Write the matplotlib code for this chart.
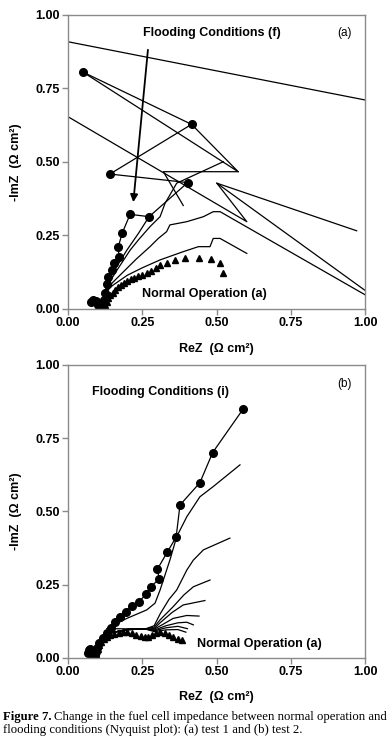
import numpy as np
import matplotlib
matplotlib.use('Agg')
import matplotlib.pyplot as plt

plt.rcParams['font.family'] = ['Liberation Sans', 'DejaVu Sans']

# ---- test 1 (panel a) ----
top_circle = [(0.076, 0.023), (0.085, 0.031), (0.095, 0.028), (0.102, 0.014), (0.110, 0.006),
              (0.115, 0.012), (0.120, 0.030), (0.125, 0.055), (0.130, 0.085), (0.136, 0.110),
              (0.147, 0.133), (0.155, 0.155), (0.172, 0.176), (0.169, 0.210), (0.182, 0.257),
              (0.209, 0.322), (0.273, 0.314), (0.403, 0.430), (0.141, 0.459), (0.416, 0.628),
              (0.050, 0.806)]
top_triangle = [(0.105, 0.010), (0.112, 0.004), (0.119, 0.008), (0.125, 0.015), (0.130, 0.025),
                (0.136, 0.036), (0.142, 0.046), (0.150, 0.056), (0.158, 0.066), (0.167, 0.075),
                (0.177, 0.083), (0.188, 0.090), (0.199, 0.096), (0.211, 0.102), (0.223, 0.107),
                (0.236, 0.112), (0.250, 0.117), (0.265, 0.122), (0.280, 0.130), (0.295, 0.138),
                (0.310, 0.148), (0.332, 0.155), (0.360, 0.165), (0.394, 0.172), (0.442, 0.172),
                (0.481, 0.169), (0.512, 0.155), (0.521, 0.121)]
top_start = [(0.11, 0.008), (0.12, 0.03), (0.13, 0.06)]
top_b = [(0.15, 0.08), (0.20, 0.115), (0.25, 0.14), (0.31, 0.167), (0.388, 0.195), (0.439, 0.212),
         (0.478, 0.212), (0.489, 0.24), (0.512, 0.24), (0.602, 0.189)]
top_c = [(0.15, 0.09), (0.19, 0.13), (0.23, 0.17), (0.276, 0.212), (0.304, 0.24), (0.332, 0.263),
         (0.343, 0.286), (0.40, 0.297), (0.456, 0.314), (0.489, 0.331), (0.512, 0.331), (1.006, 0.045)]
top_d = [(0.145, 0.10), (0.17, 0.14), (0.209, 0.20), (0.237, 0.235), (0.276, 0.28), (0.31, 0.314),
         (0.327, 0.36), (0.366, 0.428), (0.523, 0.501)]
top_e = [(0.136, 0.099), (0.164, 0.144), (0.198, 0.20), (0.237, 0.257), (0.273, 0.314)]
# stray low frequency segments
top_zig1 = [(0.05, 0.806), (0.573, 0.467), (0.416, 0.628)]
top_zig2 = [(0.573, 0.467), (0.321, 0.467), (0.388, 0.352)]
top_lineA = [(0.0, 0.909), (1.0, 0.711)]
top_lineB = [(0.0, 0.654), (0.602, 0.297), (0.501, 0.428), (0.972, 0.266)]
top_lineC = [(0.501, 0.428), (1.006, 0.059)]
top_arrow = [(0.27, 0.891), (0.219, 0.354)]

# ---- test 2 (panel b) ----
bot_circle = [(0.068, 0.016), (0.069, 0.027), (0.074, 0.030), (0.080, 0.020), (0.085, 0.010),
              (0.090, 0.005), (0.094, 0.020), (0.099, 0.035), (0.105, 0.050), (0.117, 0.067),
              (0.130, 0.086), (0.144, 0.103), (0.158, 0.122), (0.175, 0.141), (0.194, 0.158),
              (0.214, 0.177), (0.239, 0.192), (0.263, 0.218), (0.278, 0.243), (0.307, 0.269),
              (0.301, 0.303), (0.334, 0.361), (0.364, 0.412), (0.377, 0.522), (0.444, 0.598),
              (0.487, 0.701), (0.590, 0.850)]
bot_triangle = [(0.080, 0.012), (0.085, 0.006), (0.090, 0.010), (0.095, 0.020), (0.100, 0.032),
                (0.106, 0.045), (0.112, 0.056), (0.120, 0.065), (0.130, 0.072), (0.142, 0.078),
                (0.156, 0.082), (0.170, 0.085), (0.185, 0.087), (0.200, 0.087), (0.215, 0.085),
                (0.230, 0.080), (0.245, 0.075), (0.258, 0.072), (0.270, 0.073), (0.282, 0.078),
                (0.295, 0.084), (0.310, 0.087), (0.325, 0.085), (0.340, 0.080), (0.355, 0.073),
                (0.370, 0.066), (0.383, 0.060)]
bot_start = [(0.09, 0.01), (0.11, 0.05), (0.14, 0.085), (0.20, 0.097), (0.26, 0.099)]
bot_1 = [(0.13, 0.10), (0.198, 0.135), (0.265, 0.164), (0.293, 0.187), (0.31, 0.232), (0.343, 0.334),
         (0.366, 0.414), (0.40, 0.482), (0.444, 0.55), (0.489, 0.585), (0.579, 0.659)]
bot_2 = [(0.29, 0.11), (0.31, 0.15), (0.34, 0.20), (0.366, 0.232), (0.40, 0.30), (0.422, 0.334),
         (0.456, 0.369), (0.545, 0.409)]
bot_3 = [(0.29, 0.105), (0.31, 0.13), (0.354, 0.175), (0.39, 0.215), (0.422, 0.243), (0.478, 0.266)]
bot_4 = [(0.29, 0.10), (0.31, 0.12), (0.35, 0.155), (0.388, 0.181), (0.461, 0.196)]
bot_5 = [(0.29, 0.098), (0.32, 0.115), (0.354, 0.135), (0.40, 0.145), (0.441, 0.143)]
bot_6 = [(0.29, 0.095), (0.33, 0.11), (0.37, 0.12), (0.40, 0.122), (0.422, 0.113)]
bot_7 = [(0.29, 0.093), (0.33, 0.103), (0.37, 0.108), (0.402, 0.10)]
bot_8 = [(0.29, 0.09), (0.33, 0.096), (0.37, 0.097), (0.397, 0.088)]

ticks = [0.0, 0.25, 0.5, 0.75, 1.0]
tick_labels = ['0.00', '0.25', '0.50', '0.75', '1.00']
frame = '#8a8a8a'


def xy(pts):
    a = np.array(pts)
    return a[:, 0], a[:, 1]


def thin(ax, pts):
    x, y = xy(pts)
    ax.plot(x, y, color='k', lw=0.9)


def style(ax):
    ax.set_xlim(0, 1)
    ax.set_ylim(0, 1)
    ax.set_xticks(ticks)
    ax.set_yticks(ticks)
    ax.set_xticklabels(tick_labels, fontsize=9, fontweight='bold')
    ax.set_yticklabels(tick_labels, fontsize=9, fontweight='bold')
    for s in ax.spines.values():
        s.set_color(frame)
        s.set_linewidth(1.0)
    ax.tick_params(direction='out', length=4, width=1, color=frame, pad=2)
    ax.set_xlabel('ReZ  (\u03a9 cm\u00b2)', fontsize=9, fontweight='bold')
    ax.set_ylabel('-ImZ  (\u03a9 cm\u00b2)', fontsize=9, fontweight='bold')
    ax.yaxis.set_label_coords(-0.155, 0.5)


fig = plt.figure(figsize=(3.9, 7.46), dpi=100)
ax1 = fig.add_axes([0.1744, 0.5858, 0.7615, 0.3941])
ax2 = fig.add_axes([0.1744, 0.1180, 0.7615, 0.3928])

# panel a
for seg in [top_b, top_c, top_d, top_e]:
    thin(ax1, top_start + seg)
for seg in [top_zig1, top_zig2, top_lineA, top_lineB, top_lineC]:
    thin(ax1, seg)
x, y = xy(top_circle)
ax1.plot(x, y, color='k', lw=0.9, marker='o', ms=5.5)
x, y = xy(top_triangle)
ax1.plot(x, y, color='k', lw=0.9, marker='^', ms=5, ls='none')
ax1.annotate('', xy=top_arrow[1], xytext=top_arrow[0],
             arrowprops=dict(arrowstyle='-|>', color='k', lw=1.3, mutation_scale=11))
ax1.text(0.485, 0.94, 'Flooding Conditions (f)', ha='center', va='center', fontsize=9, fontweight='bold')
ax1.text(0.93, 0.94, '(a)', ha='center', va='center', fontsize=8.5)
ax1.text(0.458, 0.051, 'Normal Operation (a)', ha='center', va='center', fontsize=9, fontweight='bold')
style(ax1)
ax1.xaxis.set_label_coords(0.5, -0.116)

# panel b
for seg in [bot_1, bot_2, bot_3, bot_4, bot_5, bot_6, bot_7, bot_8]:
    thin(ax2, bot_start + seg)
x, y = xy(bot_circle)
ax2.plot(x, y, color='k', lw=0.9, marker='o', ms=5.5)
x, y = xy(bot_triangle)
ax2.plot(x, y, color='k', lw=0.9, marker='^', ms=5, ls='none')
ax2.text(0.31, 0.907, 'Flooding Conditions (i)', ha='center', va='center', fontsize=9, fontweight='bold')
ax2.text(0.93, 0.935, '(b)', ha='center', va='center', fontsize=8.5)
ax2.text(0.646, 0.048, 'Normal Operation (a)', ha='center', va='center', fontsize=9, fontweight='bold')
style(ax2)
ax2.xaxis.set_label_coords(0.5, -0.112)

# caption
serif = ['Liberation Serif', 'DejaVu Serif']
fig.canvas.draw()
r = fig.canvas.get_renderer()
t0 = fig.text(3 / 390, 1 - 717 / 746, 'Figure 7.', family=serif, fontweight='bold', fontsize=9.2, va='center')
bb = t0.get_window_extent(r)
fig.text((bb.x1 + 3) / 390, 1 - 717 / 746,
         'Change in the fuel cell impedance between normal operation and',
         family=serif, fontsize=9.2, va='center')
fig.text(3 / 390, 1 - 730 / 746,
         'flooding conditions (Nyquist plot): (a) test 1 and (b) test 2.',
         family=serif, fontsize=9.2, va='center')

fig.savefig('out.png', dpi=100)
